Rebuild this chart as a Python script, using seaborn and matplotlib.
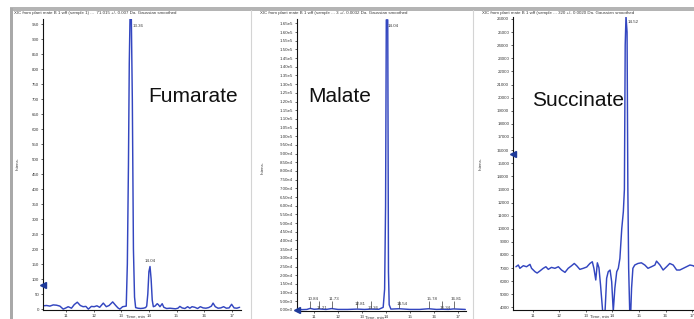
import matplotlib
matplotlib.use('Agg')
import matplotlib.pyplot as plt
from matplotlib.patches import Rectangle
from matplotlib.lines import Line2D
from matplotlib.ticker import FuncFormatter
import seaborn as sns
import numpy as np

# ---- data ----
fum_time = [10.18, 10.30, 10.42, 10.54, 10.66, 10.78, 10.90, 11.00, 11.08, 11.20,
            11.30, 11.41, 11.52, 11.62, 11.72, 11.81, 11.92, 12.02, 12.12, 12.22,
            12.35, 12.46, 12.56, 12.69, 12.80, 12.88, 12.95, 13.05, 13.12, 13.18,
            13.22, 13.26, 13.29, 13.32, 13.36, 13.40, 13.44, 13.48, 13.52, 13.60,
            13.70, 13.80, 13.88, 13.92, 13.96, 14.00, 14.04, 14.08, 14.12, 14.16,
            14.22, 14.30, 14.34, 14.40, 14.48, 14.54, 14.64, 14.76, 14.86, 14.96,
            15.05, 15.12, 15.20, 15.30, 15.40, 15.48, 15.56, 15.66, 15.76, 15.86,
            15.96, 16.06, 16.16, 16.26, 16.32, 16.40, 16.50, 16.60, 16.70, 16.80,
            16.90, 16.99, 17.08, 17.18, 17.28]
fum_int = [11, 12, 10, 14, 13, 10, 0, 4, 8, 3,
           15, 23, 12, 8, 9, 0, 9, 8, 11, 6,
           20, 8, 12, 24, 12, 4, 0, 8, 9, 10,
           150, 480, 820, 990, 1000, 700, 200, 40, 5, 3,
           2, 3, 5, 10, 50, 125, 142, 100, 30, 8,
           10, 18, 15, 8, 18, 6, 2, 3, 2, 1,
           3, 9, 4, 2, 8, 3, 8, 6, 2, 8,
           4, 3, 5, 10, 20, 8, 3, 4, 8, 3,
           4, 16, 4, 3, 6]

mal_time = [10.30, 10.50, 10.70, 10.84, 11.00, 11.21, 11.50, 11.73, 12.00, 12.40,
            12.81, 13.10, 13.36, 13.70, 13.88, 13.94, 13.98, 14.01, 14.07, 14.10,
            14.13, 14.20, 14.54, 15.00, 15.40, 15.78, 16.10, 16.34, 16.60, 16.81,
            17.30]
mal_int = [300, 200, 300, 900, 400, 600, 300, 800, 300, 300,
           500, 300, 500, 400, 1500, 12000, 60000, 167000, 167000, 22000,
           3000, 500, 700, 300, 300, 700, 300, 400, 300, 600,
           300]

suc_time = [10.36, 10.45, 10.51, 10.64, 10.76, 10.89, 10.95, 11.08, 11.16, 11.26,
            11.39, 11.49, 11.58, 11.70, 11.83, 11.96, 12.08, 12.21, 12.33, 12.46,
            12.56, 12.65, 12.77, 12.90, 13.03, 13.15, 13.24, 13.30, 13.37, 13.43,
            13.49, 13.55, 13.63, 13.72, 13.78, 13.84, 13.91, 13.97, 14.03, 14.09,
            14.16, 14.22, 14.28, 14.35, 14.41, 14.45, 14.48, 14.51, 14.55, 14.58,
            14.61, 14.65, 14.69, 14.72, 14.77, 14.84, 14.96, 15.09, 15.22, 15.34,
            15.47, 15.60, 15.66, 15.79, 15.91, 16.04, 16.16, 16.29, 16.42, 16.54,
            16.67, 16.79, 16.92, 17.04, 17.17, 17.30]
suc_int = [7100, 7230, 6980, 7180, 7100, 7280, 6980, 6720, 6620, 6770,
           6980, 7100, 6900, 7050, 6980, 7100, 6850, 6670, 6980, 7180,
           7350, 7180, 6900, 6980, 7080, 7350, 7480, 6980, 6090, 7400,
           7030, 5710, 3700, 3700, 6220, 6720, 6850, 5960, 3700, 5460,
           6720, 6980, 7730, 10000, 11300, 13000, 24000, 26200, 25000, 13000,
           7000, 3700, 3700, 5460, 6980, 7230, 7350, 7400, 7230, 6980,
           7100, 7230, 7530, 7230, 6850, 7100, 7350, 7230, 6850, 6850,
           6980, 7100, 7230, 7180, 7000, 7100]

mal_peak_times = [10.84, 11.21, 11.73, 12.81, 13.36, 14.54, 15.78, 16.34, 16.81]
mal_peak_labels = ['10.84', '11.21', '11.73', '12.81', '13.36', '14.54', '15.78', '16.34', '16.81']
mal_peak_label_y = [6400, 1300, 6400, 3400, 1300, 3400, 6400, 1300, 6400]

compounds = ['Fumarate', 'Malate', 'Succinate']
apex_labels = ['13.36', '14.04', '14.52']
titles = ['XIC from plant mate B 1 wff (sample 1) ...  71.015 +/- 0.007 Da. Gaussian smoothed',
          'XIC from plant mate B 1 wff (sample ... 3 +/- 0.0032 Da. Gaussian smoothed',
          'XIC from plant mate B 1 wff (sample ... 320 +/- 0.0020 Da. Gaussian smoothed']
marker_levels = [80, 0, 15700]

W, H = 694, 319
LINE = '#3346c0'
TXT = '#3a3a3a'

sns.set_theme(style='white')
plt.rcParams['font.family'] = ['Liberation Sans', 'DejaVu Sans']

fig = plt.figure(figsize=(W / 100, H / 100), dpi=100)
fig.patch.set_facecolor('white')


def px_rect(x0, y_top, x1, y_bot):
    """像素坐标 -> figure 坐标"""
    return [x0 / W, 1 - y_bot / H, (x1 - x0) / W, (y_bot - y_top) / H]


def sci_fmt(v, pos):
    if v == 0:
        return '0.00e0'
    e = int(np.floor(np.log10(abs(v))))
    return f'{v / 10 ** e:.2f}e{e}'


def draw_panel(rect, t, y, xlim, ylim, yticks, yfmt=None):
    ax = fig.add_axes(rect)
    sns.lineplot(x=t, y=y, ax=ax, color=LINE, linewidth=1.05, estimator=None, sort=False)
    ax.set_xlim(*xlim)
    ax.set_ylim(*ylim)
    ax.set_xticks(range(11, 18))
    ax.set_yticks(yticks)
    if yfmt:
        ax.yaxis.set_major_formatter(FuncFormatter(yfmt))
    ax.tick_params(axis='both', labelsize=3.2, length=1.5, width=0.5, pad=1.2,
                   colors='#222222', labelcolor=TXT, left=True, bottom=True)
    for s in ['top', 'right']:
        ax.spines[s].set_visible(False)
    for s in ['left', 'bottom']:
        ax.spines[s].set_color('#111111')
        ax.spines[s].set_linewidth(0.8)
    # x 轴标题：放在 13 与 14 两个刻度之间，避免与刻度文字重叠
    ax.set_xlabel('Time, min', fontsize=3.2, color=TXT)
    lx = (13.5 - xlim[0]) / (xlim[1] - xlim[0])
    ax.xaxis.set_label_coords(lx, -4.6 / (rect[3] * H), transform=ax.transAxes)
    ax.xaxis.label.set_va('top')
    ax.set_ylabel('')
    ax.patch.set_alpha(0)
    return ax


# Fumarate
ax1 = draw_panel(px_rect(43, 19, 241, 310), fum_time, fum_int,
                 (10.17, 17.33), (-3, 967), np.arange(0, 951, 50))
# Malate
ax2 = draw_panel(px_rect(297, 19, 466, 311), mal_time, mal_int,
                 (10.29, 17.33), (-600, 167500), np.arange(0, 165001, 5000), sci_fmt)
# Succinate (右侧被截断)
ax3 = draw_panel(px_rect(513, 17, 700, 310), suc_time, suc_int,
                 (10.25, 17.30), (3800, 26150), np.arange(4000, 26001, 1000))

axes = [ax1, ax2, ax3]

# apex labels
ax1.text(13.40, 950, apex_labels[0], fontsize=3.2, color=TXT, va='top')
ax1.text(14.04, 155, '14.04', fontsize=3.2, color=TXT, ha='center', va='bottom')
ax2.text(14.08, 164500, apex_labels[1], fontsize=3.2, color=TXT, va='top')
ax3.text(14.56, 25900, apex_labels[2], fontsize=3.2, color=TXT, va='top')

# small peak labels on Malate
for t, lab, ly in zip(mal_peak_times, mal_peak_labels, mal_peak_label_y):
    ax2.vlines(t, 1200, 5200, color=TXT, linewidth=0.5)
    ax2.text(t + 0.12, ly, lab, fontsize=3.2, color=TXT, ha='center', va='center')

# compound names
name_pos = [(148, 97), (308, 97), (532, 100)]
for ax, name, (px, py) in zip(axes, compounds, name_pos):
    fig.text(px / W, 1 - py / H, name, fontsize=15, color='#111111', va='center', ha='left')

# threshold markers on the y axis
for ax, lvl in zip(axes, marker_levels):
    ax.plot(ax.get_xlim()[0], lvl, marker='<', markersize=4, color='#1f3a9a',
            clip_on=False, zorder=5)

# panel titles / y labels
title_x = [14, 260, 482]
for tx, title in zip(title_x, titles):
    fig.text(tx / W, 1 - 13 / H, title, fontsize=3.2, color=TXT, va='center', ha='left')
ylab_pos = [(18, 164), (263, 167), (481, 163)]
for px, py in ylab_pos:
    fig.text(px / W, 1 - py / H, 'Intens.', fontsize=3.2, color=TXT, rotation=90,
             va='center', ha='center')

# screenshot frame
fig.add_artist(Rectangle((10 / W, 1 - 10.5 / H), (W - 10) / W, 3 / H,
                         transform=fig.transFigure, color='#b4b4b4', lw=0))
fig.add_artist(Rectangle((10 / W, 0), 3 / W, 1 - 8 / H,
                         transform=fig.transFigure, color='#a9a9a9', lw=0))
for sx in [251, 473]:
    fig.add_artist(Line2D([sx / W, sx / W], [0, 1 - 10 / H], transform=fig.transFigure,
                          color='#d4d4d4', linewidth=0.8))

fig.savefig('out.png', dpi=100, facecolor='white')
plt.close(fig)
